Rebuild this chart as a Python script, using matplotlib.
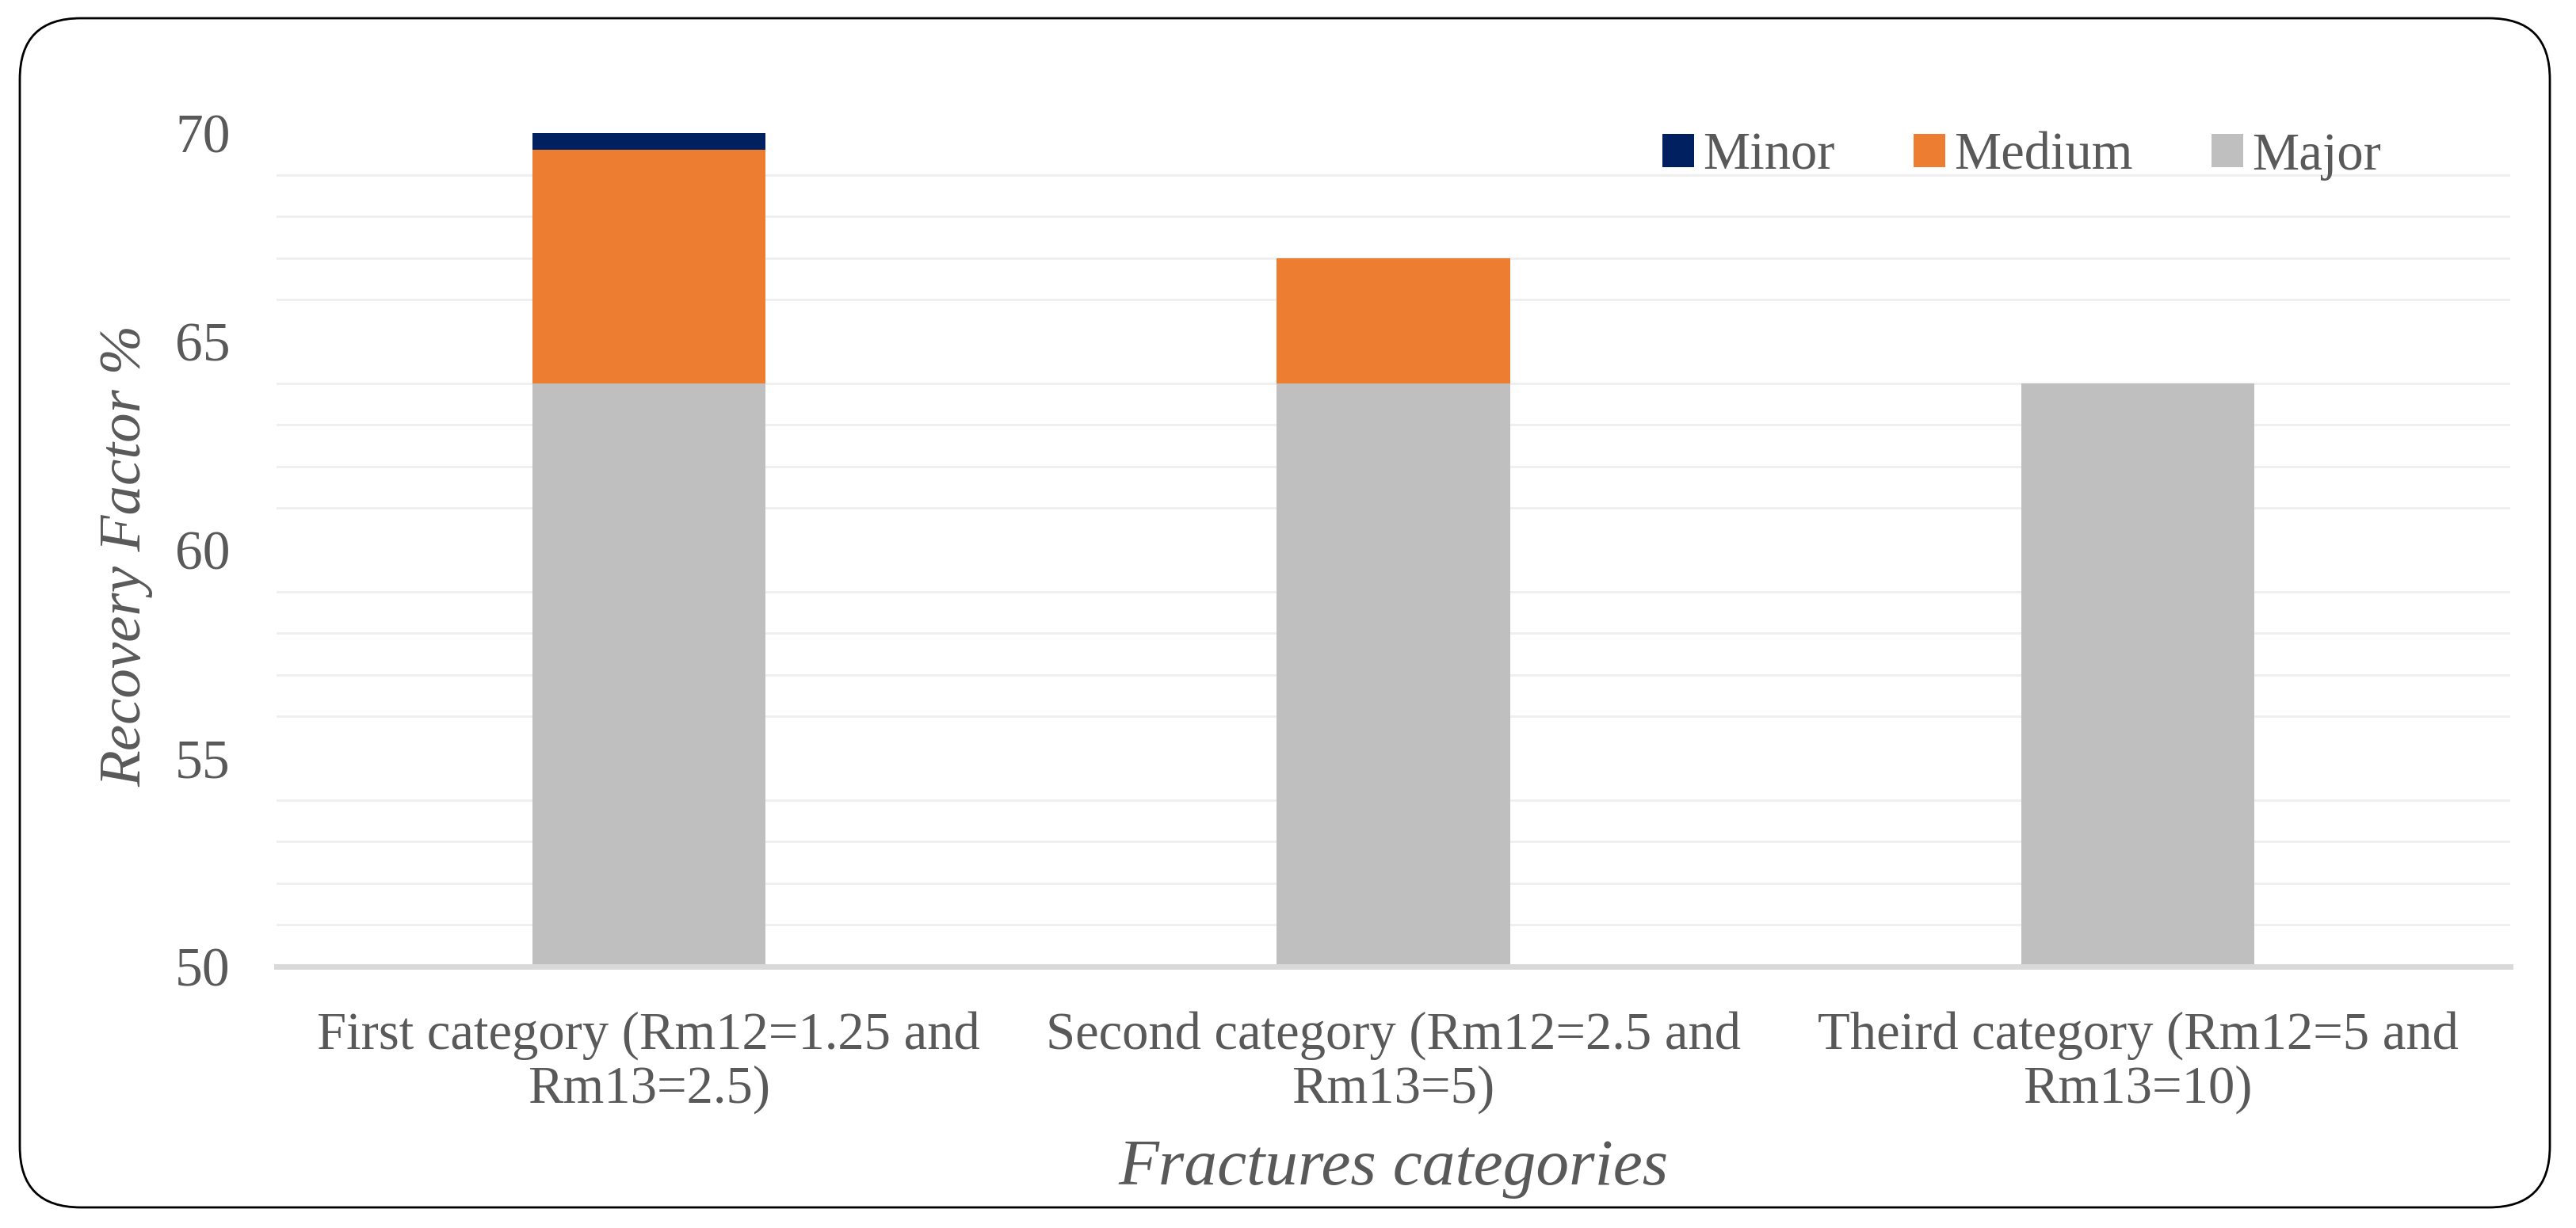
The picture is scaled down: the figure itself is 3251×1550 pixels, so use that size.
import matplotlib
matplotlib.use("Agg")
import matplotlib.pyplot as plt
from matplotlib.patches import FancyBboxPatch
from matplotlib.ticker import MultipleLocator
import numpy as np

# Values (stacked: Major at the bottom, then Medium, Minor)
categories = ["First category (Rm12=1.25 and\nRm13=2.5)",
              "Second category (Rm12=2.5 and\nRm13=5)",
              "Theird category (Rm12=5 and\nRm13=10)"]
major = [64, 64, 64]
medium = [5.6, 3.0, 0.0]
minor = [0.4, 0.0, 0.0]

series_names = ["Minor", "Medium", "Major"]
colors = {"Minor": "#002060", "Medium": "#ED7D31", "Major": "#BFBFBF"}
text_color = "#595959"

plt.rcParams['font.family'] = ['Liberation Serif', 'DejaVu Serif']

W, H, DPI = 3251, 1550, 200
fig = plt.figure(figsize=(W / DPI, H / DPI), dpi=DPI, facecolor='white')

# axes placed to match the plot area in the reference (pixel measurements)
left, right, top, bottom = 349, 3168, 168, 1220
ax = fig.add_axes([left / W, 1 - bottom / H, (right - left) / W, (bottom - top) / H])

x = np.arange(len(categories))
bar_w = 0.313
base = np.array(major, dtype=float)
ax.bar(x, major, bar_w, color=colors["Major"], label="Major", zorder=2)
ax.bar(x, medium, bar_w, bottom=base, color=colors["Medium"], label="Medium", zorder=2)
ax.bar(x, minor, bar_w, bottom=base + np.array(medium), color=colors["Minor"], label="Minor", zorder=2)

ax.set_xlim(-0.5, len(categories) - 0.5)
ax.set_ylim(50, 70)
ax.yaxis.set_major_locator(MultipleLocator(5))
ax.yaxis.set_minor_locator(MultipleLocator(1))
ax.grid(which='minor', axis='y', color='#EFEFEF', linewidth=1.0, zorder=0)
ax.grid(which='major', visible=False)
ax.set_axisbelow(True)

for s in ['top', 'right', 'left']:
    ax.spines[s].set_visible(False)
ax.spines['bottom'].set_color('#D9D9D9')
ax.spines['bottom'].set_linewidth(2.5)
ax.spines['bottom'].set_zorder(3)

ax.set_xticks(x)
ax.set_xticklabels(categories, fontsize=24, color=text_color, linespacing=1.15)
ax.tick_params(axis='x', length=0, pad=20)
ax.tick_params(axis='y', which='both', length=0, pad=21, labelsize=25, labelcolor=text_color)

# axis titles
fig.text(160 / W, 1 - 701 / H, "Recovery Factor %", rotation=90, ha='center', va='center',
         fontsize=27, style='italic', color=text_color)
fig.text((left + right) / 2 / W, 1 - 1495 / H, "Fractures categories", ha='center', va='baseline',
         fontsize=30, style='italic', color=text_color)

# legend in the order Minor, Medium, Major
handles, labels = ax.get_legend_handles_labels()
order = [labels.index(n) for n in series_names]
ax.legend([handles[i] for i in order], [labels[i] for i in order],
          loc='center left', bbox_to_anchor=(2098 / W, 1 - 197 / H), bbox_transform=fig.transFigure,
          ncol=3, frameon=False, fontsize=24, labelcolor=text_color,
          handlelength=0.6, handleheight=0.6, handletextpad=0.16, columnspacing=1.5,
          borderpad=0, borderaxespad=0)

# rounded outer border
border = FancyBboxPatch((25 / DPI, (H - 1524) / DPI), (3218 - 25) / DPI, (1524 - 23) / DPI,
                        boxstyle="round,pad=0,rounding_size=0.385", transform=fig.dpi_scale_trans,
                        facecolor='none', edgecolor='black', linewidth=1.0, zorder=10)
fig.patches.append(border)

fig.savefig("out.png", dpi=DPI, facecolor='white')
